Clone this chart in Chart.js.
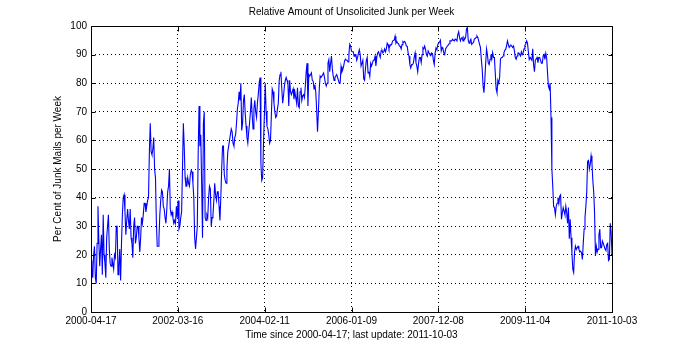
<!DOCTYPE html>
<html>
<head>
<meta charset="utf-8">
<script src="https://cdn.jsdelivr.net/npm/chart.js@4.4.0/dist/chart.umd.min.js"></script>
<style>
  html, body { margin: 0; padding: 0; background: #fff; }
</style>
</head>
<body>
<canvas id="junkChart" width="680" height="350"></canvas>
<script>
// una lectura por semana, semana 0 = 2000-04-17
// semanas 0..100
const junk2000 = [
  18, 14, 12, 20, 23, 12, 10, 24, 37, 25, 16, 22, 27, 13, 34, 20, 17, 12, 26, 30,
  34, 22, 17, 16, 19, 17, 15, 20, 19, 30, 30, 13, 16, 22, 11, 24, 34, 40, 41, 35,
  27, 32, 36, 32, 29, 36, 26, 24, 19, 30, 33, 24, 26, 30, 30, 26, 21, 26, 33, 31,
  34, 38, 38, 35, 37, 39, 40, 56, 66, 56, 55, 57, 61, 50, 47, 32, 23, 23, 26, 34,
  39, 42.7, 42, 37, 36, 33, 31, 36, 42, 44, 50, 36, 34, 35, 33, 31, 32, 31, 37, 33,
  39
];
// semanas 101..200
const junk2002 = [
  29, 30, 33, 35, 50, 66, 58, 47, 44, 44, 47, 45, 44, 48, 49.5, 49, 45, 40, 26, 22,
  26, 30, 55, 72, 58, 62, 45, 26, 66, 70, 33, 32, 34, 33, 40, 44, 43, 30, 33, 34,
  39, 45, 41, 39, 42, 42, 37, 32, 40, 50, 58, 58, 48, 46, 45, 50, 56, 58, 60, 62,
  64, 63, 59, 58, 61, 62, 66, 71, 73, 77, 74, 80, 63.5, 66, 74, 76, 69.5, 65, 61, 59,
  63, 66, 70, 75, 69, 64, 71, 74, 70, 68, 73, 76, 80, 82, 52, 46, 47, 59, 69, 80
];
// semanas 201..300
const junk2004 = [
  70, 65, 64, 62, 59, 60, 68.5, 78, 77, 73, 70, 68, 68.5, 71, 73, 81, 83, 84, 78, 73,
  75.6, 79, 81, 82, 81, 80, 72, 81, 77, 76, 77, 78, 74.4, 77, 75, 73, 78.4, 72, 71.4, 77,
  78.4, 74, 75.6, 76, 75, 79, 84, 87, 72, 83, 82.5, 83, 83.6, 81, 80.7, 78, 79.5, 77, 70.7, 63,
  70, 78, 82.5, 82, 82, 83, 83.6, 82, 80, 79, 80, 87, 88.2, 84, 87, 89.5, 85, 82.5, 81, 82,
  82.5, 83, 82, 81, 80, 80, 85.8, 84, 84.8, 86, 87.7, 88.4, 88, 88, 87.4, 90, 93.6, 93, 91.2, 91
];
// semanas 301..400
const junk2006 = [
  91, 89.4, 90, 90, 88, 89, 90.6, 91.7, 90, 86, 86, 88, 81.5, 81, 85, 88, 89, 83.6, 84, 82.4,
  87, 86, 87, 88, 88, 89.4, 86, 89, 90.6, 91, 90, 89, 91.3, 91.5, 90.6, 91, 92, 91, 92, 94,
  93.5, 92, 92.9, 93.5, 93.5, 94.6, 95, 95, 96.4, 94, 94.6, 94, 93.8, 93, 92.9, 92, 93.5, 94.6, 94.3, 94.6,
  94, 93, 92.9, 90.6, 89.4, 86.5, 85.3, 86.5, 86.5, 87, 89, 90.6, 87.2, 86, 84, 87, 89, 89, 87.2, 90,
  92.4, 92, 93, 91.7, 90, 89.4, 91.3, 90.6, 90, 89.7, 90.6, 90.3, 88, 86.5, 90.6, 92.3, 91.7, 93.5, 94, 94.3
];
// semanas 401..500
const junk2007 = [
  95, 91.3, 92.5, 92, 90.5, 90, 92, 92.5, 93, 93.3, 93.8, 94.8, 94.8, 94.8, 95.4, 95, 94.8, 95.4, 95.2, 94.8,
  97, 98, 96, 94.8, 95.6, 96, 94.8, 96, 95.4, 96, 99, 99.5, 95, 94, 94.8, 95.4, 93.6, 94, 94.2, 95.4,
  95.6, 96, 96.5, 96, 94.8, 93.6, 92.5, 88.4, 85, 79, 76.7, 81, 87, 92, 90, 87, 86.5, 88.4, 90, 88.4,
  90.7, 89, 89, 83.7, 78, 76.7, 81, 80, 82, 88.4, 89, 89, 89.5, 90.7, 91.5, 91.9, 93, 94.8, 93.6, 92.5,
  93, 93.3, 93, 92.5, 93, 91.3, 89, 88.4, 89.5, 90.5, 90.6, 90, 89.5, 91, 90, 90.5, 92, 93.3, 93.6, 94.8
];
// semanas 501..598
const junk2009 = [
  94, 91, 88.3, 89, 89, 88, 92, 86.5, 84, 88, 88.5, 89, 87.2, 89, 89, 88, 87, 87, 89.5, 90,
  88.3, 90.5, 89, 83.6, 79, 78, 80, 68, 50, 44, 36.8, 36.5, 34, 37, 38, 40, 38, 40.5, 41, 32.4,
  34.7, 36.5, 35.3, 34, 37, 34.7, 31, 36.5, 25.6, 32.4, 26, 20.7, 15, 13.8, 21, 23, 21.9, 22.5, 23, 22,
  21, 21.3, 20.7, 18.4, 24, 29, 33, 37, 42, 52.7, 53, 50, 51.7, 54.6, 52, 46, 42, 34.7, 19.6, 23,
  21, 22, 27, 29, 22.5, 22.5, 24.8, 24, 23, 22, 21.5, 23.6, 24, 18, 18.4, 31, 28, 20
];

const junk = [].concat(junk2000, junk2002, junk2004, junk2006, junk2007, junk2009);

const xTickWeeks = [0, 99.667, 199.333, 299, 398.667, 498.333, 598];
const xTickLabels = ['2000-04-17', '2002-03-16', '2004-02-11', '2006-01-09', '2007-12-08', '2009-11-04', '2011-10-03'];
const yTicks = [0, 10, 20, 30, 40, 50, 60, 70, 80, 90, 100];

const fuente = { family: "'Liberation Sans', Arial, sans-serif", size: 10 };

// caja de los ejes y marcas hacia dentro, estilo matlab
const marcoEjes = {
  id: 'marcoEjes',
  afterDraw(chart) {
    const ctx = chart.ctx;
    const a = chart.chartArea;
    const sx = chart.scales.x;
    const sy = chart.scales.y;
    const L = Math.round(a.left) + 0.5, R = Math.round(a.right) + 0.5;
    const T = Math.round(a.top) + 0.5, B = Math.round(a.bottom) + 0.5;
    ctx.save();
    ctx.strokeStyle = '#000';
    ctx.lineWidth = 1;
    ctx.beginPath();
    xTickWeeks.forEach(function (w) {
      const px = Math.round(sx.getPixelForValue(w)) + 0.5;
      ctx.moveTo(px, B); ctx.lineTo(px, B - 5);
      ctx.moveTo(px, T); ctx.lineTo(px, T + 5);
    });
    yTicks.forEach(function (v) {
      const py = Math.round(sy.getPixelForValue(v)) + 0.5;
      ctx.moveTo(L, py); ctx.lineTo(L + 4, py);
      ctx.moveTo(R, py); ctx.lineTo(R - 4, py);
    });
    ctx.stroke();
    ctx.strokeRect(L, T, R - L, B - T);
    ctx.restore();
  }
};

const ctx = document.getElementById('junkChart').getContext('2d');
new Chart(ctx, {
  type: 'line',
  data: {
    datasets: [{
      data: junk.map((v, i) => ({ x: i, y: v })),
      borderColor: '#0000ff',
      borderWidth: 1.1,
      pointRadius: 0,
      tension: 0,
      fill: false
    }]
  },
  options: {
    responsive: false,
    animation: false,
    layout: { padding: { left: 0, right: 68, top: 0, bottom: 0 } },
    plugins: {
      legend: { display: false },
      tooltip: { enabled: false },
      title: {
        display: true,
        fullSize: false,
        text: 'Relative Amount of Unsolicited Junk per Week',
        color: '#000',
        font: { family: fuente.family, size: 10, weight: 'normal' },
        padding: { top: 6, bottom: 8 }
      }
    },
    scales: {
      x: {
        type: 'linear',
        min: 0,
        max: 598,
        afterFit: function (scale) { scale.height = 38; },
        afterBuildTicks: function (scale) {
          scale.ticks = xTickWeeks.map(w => ({ value: w }));
        },
        ticks: {
          color: '#000',
          font: fuente,
          padding: 3,
          maxRotation: 0,
          autoSkip: false,
          callback: function (val, i) { return xTickLabels[i]; }
        },
        grid: { color: '#000', drawTicks: false },
        border: { display: false, dash: [1, 3] },
        title: {
          display: true,
          text: 'Time since 2000-04-17; last update: 2011-10-03',
          color: '#000',
          font: fuente,
          padding: { top: 0, bottom: 9 }
        }
      },
      y: {
        min: 0,
        max: 100,
        afterFit: function (scale) { scale.width = 91; },
        ticks: {
          color: '#000',
          font: fuente,
          stepSize: 10,
          padding: 4
        },
        grid: { color: '#000', drawTicks: false },
        border: { display: false, dash: [1, 3] },
        title: {
          display: true,
          text: 'Per Cent of Junk Mails per Week',
          color: '#000',
          font: fuente,
          padding: { top: 52, bottom: 0 }
        }
      }
    }
  },
  plugins: [marcoEjes]
});
</script>
</body>
</html>
